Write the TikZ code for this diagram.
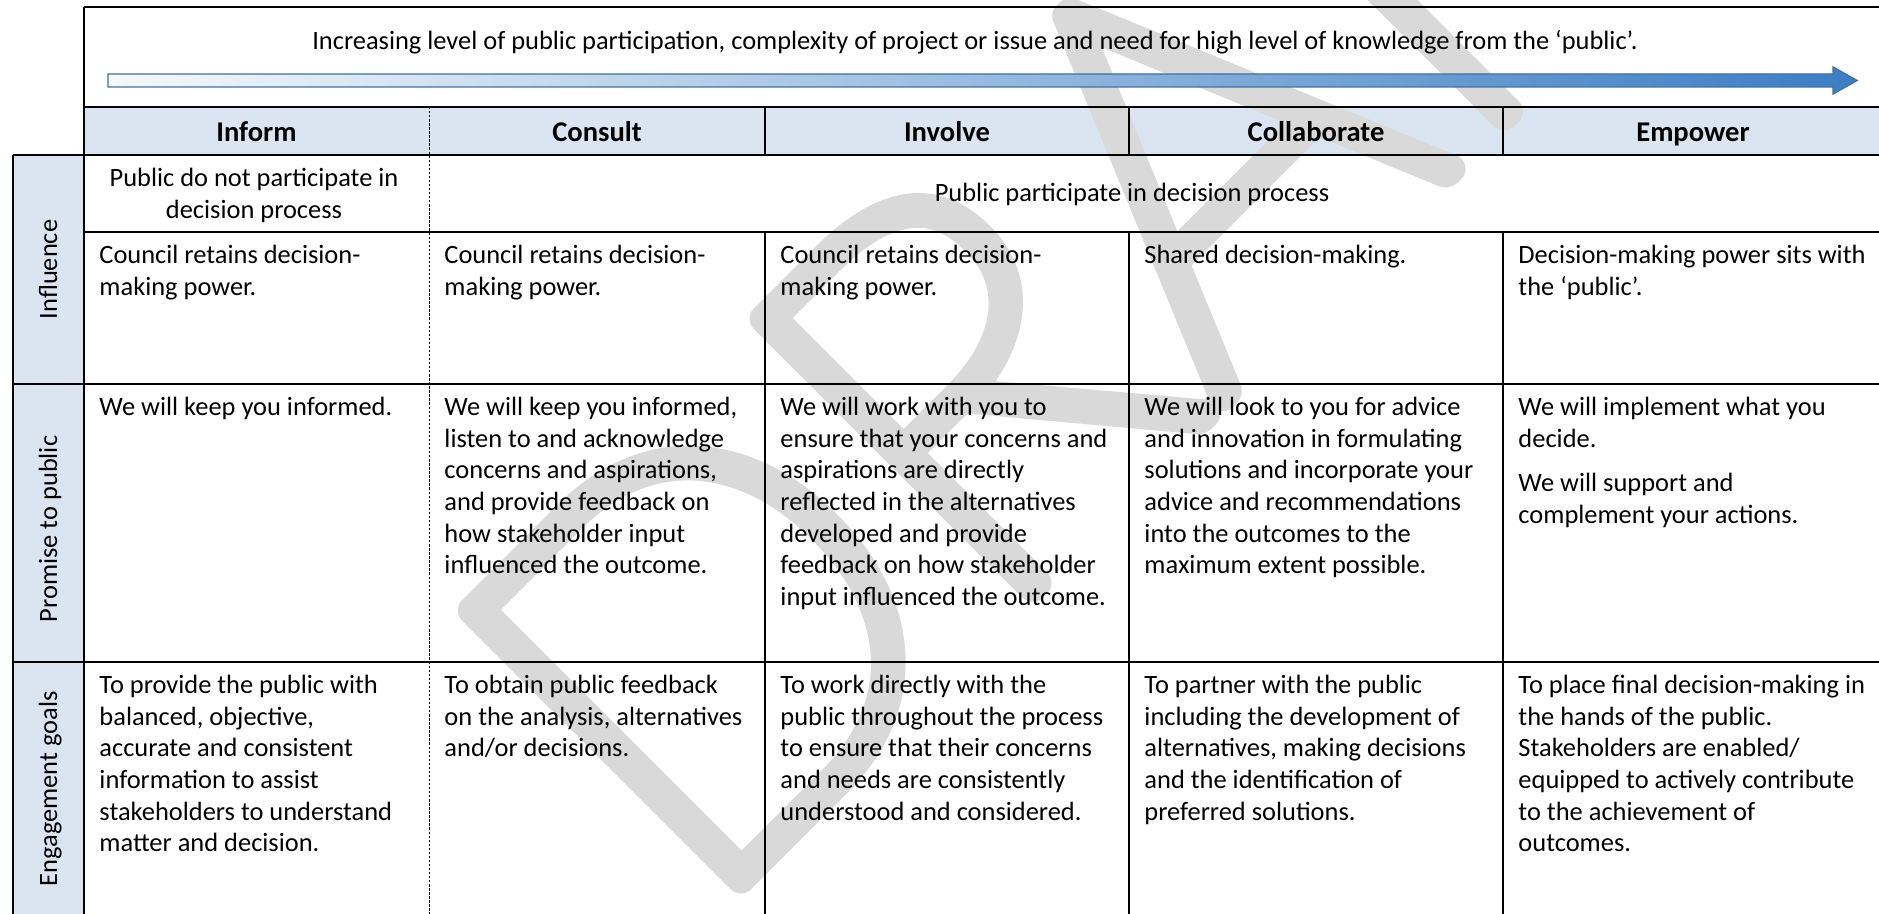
\documentclass[tikz,border=0pt]{standalone}
\usepackage{fontspec}
\setmainfont{Carlito}
\usepackage{tikz}

\definecolor{headblue}{HTML}{DBE5F1}
\definecolor{arrowblue}{HTML}{3C7DC4}
\definecolor{arrowline}{HTML}{41719C}

% watermark letters: a hairline face, filled and stroked with round joins
\IfFontExistsTF{Lato Hairline}
  {\newfontfamily\wmfont{Lato Hairline}\newcommand{\wmmode}{2 Tr 12 w 1 j 1 J}}
  {\newfontfamily\wmfont{Carlito}\newcommand{\wmmode}{0 Tr}}
\newcommand{\wmtext}[1]{\special{pdf:literal direct \wmmode}#1\special{pdf:literal direct 0 Tr}}

\begin{document}
\begin{tikzpicture}[x=0.42pt,y=-0.42pt,
    rule/.style={line width=0.7pt},
    dashrule/.style={line width=0.4pt,dash pattern=on 1pt off 0.7pt},
    cell/.style={anchor=north west,inner sep=0pt,align=left,font=\fontsize{11.1}{13.3}\selectfont},
    headtext/.style={anchor=base,inner sep=0pt,font=\fontsize{12}{14.6}\selectfont\bfseries},
    rowlabel/.style={anchor=base,inner sep=0pt,rotate=90,font=\fontsize{11.1}{13.3}\selectfont}]

  \useasboundingbox (0,0) rectangle (1879,914);

  % Shaded header row and label column
  \fill[headblue] (84,107) rectangle (1883,155);
  \fill[headblue] (13,155) rectangle (84,916);

  % Watermark
  \node[anchor=base west,inner sep=0pt,rotate=45,text=black!15,
    font=\wmfont\fontsize{228}{228}\selectfont] (draft) at (696,924) {\wmtext{DRAFT}};

  % Direction arrow
  \draw[arrowline,line width=0.6pt,left color=white!95!arrowblue,right color=arrowblue]
    (108,74) -- (1833,74) -- (1833,67) -- (1857,80.5) -- (1833,94) -- (1833,87) -- (108,87) -- cycle;
  \node[anchor=base,inner sep=0pt,font=\fontsize{11.1}{13.3}\selectfont] (title) at (975,50)
    {Increasing level of public participation, complexity of project or issue and need for high level of knowledge from the ‘public’.};

  % Table rules
  \draw[rule] (84,7) -- (1883,7);
  \draw[rule] (84,107) -- (1883,107);
  \draw[rule] (13,155) -- (1883,155);
  \draw[rule] (84,232) -- (1883,232);
  \draw[rule] (13,384) -- (1883,384);
  \draw[rule] (13,662) -- (1883,662);
  \draw[rule] (13,916) -- (1883,916);
  \draw[rule] (13,155) -- (13,916);
  \draw[rule] (84,7) -- (84,916);
  \draw[rule] (1883,7) -- (1883,916);
  \foreach \x in {765,1129,1503} {
    \draw[rule] (\x,107) -- (\x,155);
    \draw[rule] (\x,232) -- (\x,916);
  }
  \draw[dashrule] (429,107) -- (429,916);

  % Column heads
  \foreach \x/\name/\txt in {256.5/inform/Inform,597/consult/Consult,947/involve/Involve,
      1316/collab/Collaborate,1693/empower/Empower}
    \node[headtext] (\name) at (\x,141.5) {\txt};

  % Row labels
  \node[rowlabel] (influence) at (57,269.5) {Influence};
  \node[rowlabel] (promise) at (57,529) {Promise to public};
  \node[rowlabel] (goals) at (57,789) {Engagement goals};

  % Participation row
  \node[cell,anchor=north,align=center] (notpart) at (254,163.8)
    {\strut Public do not participate in\\decision process};
  \node[anchor=base,inner sep=0pt,font=\fontsize{11.1}{13.3}\selectfont] (part) at (1132,202)
    {Public participate in decision process};

  % Influence row
  \node[cell] (inf-inform) at (99,240.8) {\strut Council retains decision-\\making power.};
  \node[cell] (inf-consult) at (444,240.8) {\strut Council retains decision-\\making power.};
  \node[cell] (inf-involve) at (780,240.8) {\strut Council retains decision-\\making power.};
  \node[cell] (inf-collab) at (1144,240.8) {\strut Shared decision-making.};
  \node[cell] (inf-empower) at (1518,240.8) {\strut Decision-making power sits with\\the ‘public’.};

  % Promise row
  \node[cell] (pro-inform) at (99,392.8) {\strut We will keep you informed.};
  \node[cell] (pro-consult) at (444,392.8) {\strut We will keep you informed,\\listen to and acknowledge\\concerns and aspirations,\\and provide feedback on\\how stakeholder input\\influenced the outcome.};
  \node[cell] (pro-involve) at (780,392.8) {\strut We will work with you to\\ensure that your concerns and\\aspirations are directly\\reflected in the alternatives\\developed and provide\\feedback on how stakeholder\\input influenced the outcome.};
  \node[cell] (pro-collab) at (1144,392.8) {\strut We will look to you for advice\\and innovation in formulating\\solutions and incorporate your\\advice and recommendations\\into the outcomes to the\\maximum extent possible.};
  \node[cell] (pro-empower) at (1518,392.8) {\strut We will implement what you\\decide.\\[5.5pt]We will support and\\complement your actions.};

  % Engagement goals row
  \node[cell] (eng-inform) at (99,670.8) {\strut To provide the public with\\balanced, objective,\\accurate and consistent\\information to assist\\stakeholders to understand\\matter and decision.};
  \node[cell] (eng-consult) at (444,670.8) {\strut To obtain public feedback\\on the analysis, alternatives\\and/or decisions.};
  \node[cell] (eng-involve) at (780,670.8) {\strut To work directly with the\\public throughout the process\\to ensure that their concerns\\and needs are consistently\\understood and considered.};
  \node[cell] (eng-collab) at (1144,670.8) {\strut To partner with the public\\including the development of\\alternatives, making decisions\\and the identification of\\preferred solutions.};
  \node[cell] (eng-empower) at (1518,670.8) {\strut To place final decision-making in\\the hands of the public.\\Stakeholders are enabled/\\equipped to actively contribute\\to the achievement of\\outcomes.};
\end{tikzpicture}
\end{document}
